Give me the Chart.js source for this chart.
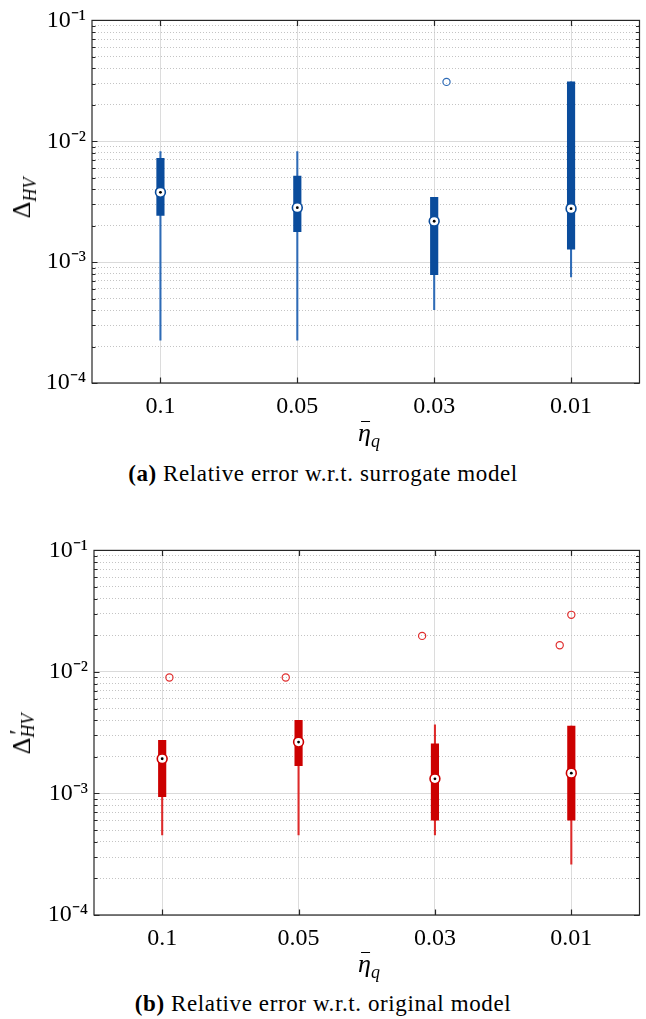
<!DOCTYPE html>
<html>
<head>
<meta charset="utf-8">
<script src="https://cdn.jsdelivr.net/npm/chart.js@4"></script>
<style>
  html, body { margin:0; padding:0; background:#fff; }
  body { width:646px; height:1019px; position:relative; overflow:hidden; font-family:'Liberation Serif', serif; color:#000; }
  .cv { position:absolute; left:0; width:646px; height:420px; }
  .ytitle { position:absolute; font-size:26px; white-space:nowrap; transform:translate(-50%,-50%) rotate(-90deg); }
  .xtitle { position:absolute; font-size:26px; white-space:nowrap; transform:translate(-50%,-50%); }
  .cap { position:absolute; left:0; width:646px; text-align:center; font-size:23px; letter-spacing:0.6px; white-space:nowrap; transform:translateY(-50%); }
  .sub { font-size:18px; font-style:italic; position:relative; top:6px; }
  .bar { display:inline-block; position:relative; font-style:italic; }
  .bar::before { content:''; position:absolute; left:3px; right:1px; top:3px; border-top:1.3px solid #000; }
  .stack { display:inline-block; position:relative; width:30px; height:22px; vertical-align:baseline; }
</style>
</head>
<body>
<div id="wrap1" class="cv" style="top:0"><canvas id="c1"></canvas></div>
<div id="wrap2" class="cv" style="top:530px"><canvas id="c2"></canvas></div>

<div class="ytitle" style="left:22px; top:198px;">Δ<span class="sub">HV</span></div>
<div class="ytitle" style="left:22px; top:731px;">Δ<span class="stack"><span style="position:absolute;left:3px;top:-3px;font-size:24px;line-height:1;">′</span><span style="position:absolute;left:0;top:11px;font-size:18px;line-height:1;font-style:italic;">HV</span></span></div>

<div class="xtitle" style="left:369px; top:433px;"><span class="bar">η</span><span class="sub">q</span></div>
<div class="xtitle" style="left:369px; top:964px;"><span class="bar">η</span><span class="sub">q</span></div>

<div class="cap" style="top:474px;"><b>(a)</b> Relative error w.r.t. surrogate model</div>
<div class="cap" style="top:1004px;"><b>(b)</b> Relative error w.r.t. original model</div>

<script>
// ---------------- DATA ----------------
const categories = ['0.1', '0.05', '0.03', '0.01'];

// (a) surrogate model (blue)
const surWhiskerLow  = [0.000226, 0.000226, 0.000405, 0.000755];
const surQ1          = [0.00243, 0.00179, 0.000789, 0.00128];
const surMedian      = [0.00378, 0.00282, 0.00218, 0.00277];
const surQ3          = [0.00723, 0.00516, 0.00344, 0.031];
const surWhiskerHigh = [0.0082, 0.0082, 0.00344, 0.031];
const surOutlierCat   = [2];
const surOutlierShift = [0.09];
const surOutlierValue = [0.031];

// (b) original model (red)
const oriWhiskerLow  = [0.000457, 0.000457, 0.000457, 0.000262];
const oriQ1          = [0.00094, 0.00169, 0.000603, 0.000603];
const oriMedian      = [0.00193, 0.00265, 0.00132, 0.00147];
const oriQ3          = [0.00274, 0.0040, 0.00256, 0.00358];
const oriWhiskerHigh = [0.00274, 0.0040, 0.00367, 0.00358];
const oriOutlierCat   = [0, 1, 2, 3, 3];
const oriOutlierShift = [0.053, -0.094, -0.094, 0.0, -0.085];
const oriOutlierValue = [0.0090, 0.0090, 0.0198, 0.0295, 0.0166];

const yMin = 1e-4, yMax = 1e-1;
const supMap = {'-':'⁻','0':'⁰','1':'¹','2':'²','3':'³','4':'⁴','5':'⁵','6':'⁶','7':'⁷','8':'⁸','9':'⁹'};

// ---------------- HELPERS ----------------
function isDecade(v) {
  const l = Math.log10(v);
  return Math.abs(l - Math.round(l)) < 1e-9;
}

const framePlugin = {
  id: 'frame',
  afterDatasetsDraw(chart) {
    const {ctx, chartArea: a, scales} = chart;
    ctx.save();
    ctx.strokeStyle = '#262626';
    ctx.lineWidth = 1.2;
    ctx.beginPath();
    scales.y.ticks.forEach(t => {
      const y = Math.round(scales.y.getPixelForValue(t.value)) + 0.5;
      const len = t.major ? 5.5 : 3.5;
      ctx.moveTo(a.left, y); ctx.lineTo(a.left + len, y);
      ctx.moveTo(a.right, y); ctx.lineTo(a.right - len, y);
    });
    scales.x.ticks.forEach(t => {
      const x = Math.round(scales.x.getPixelForValue(t.value)) + 0.5;
      ctx.moveTo(x, a.top); ctx.lineTo(x, a.top + 5.5);
      ctx.moveTo(x, a.bottom); ctx.lineTo(x, a.bottom - 5.5);
    });
    ctx.stroke();
    ctx.strokeRect(a.left, a.top, a.right - a.left, a.bottom - a.top);
    ctx.restore();
  }
};

function makeChart(canvasId, padTop, plotBottom, yWidth, d, col) {
  const boxes = [], whiskers = [], meds = [], outs = [];
  categories.forEach((c, i) => {
    whiskers.push({x: i, y: [d.wl[i], d.wh[i]]});
    boxes.push({x: i, y: [d.q1[i], d.q3[i]]});
    meds.push({x: i, y: d.med[i]});
  });
  d.oc.forEach((c, k) => outs.push({x: c + d.os[k], y: d.ov[k]}));

  return new Chart(document.getElementById(canvasId), {
    type: 'bar',
    data: {
      datasets: [
        {type: 'bar', data: whiskers, backgroundColor: col.whisker, barThickness: 1.4, grouped: false, order: 4},
        {type: 'bar', data: boxes, backgroundColor: col.box, barThickness: 7.5, grouped: false, order: 3},
        {type: 'scatter', data: outs, pointRadius: 3.6, pointBorderWidth: 1.2, pointBackgroundColor: 'rgba(0,0,0,0)', pointBorderColor: col.outlier, order: 2},
        {type: 'scatter', data: meds, pointRadius: 4.9, pointBorderWidth: 1.6, pointBackgroundColor: '#ffffff', pointBorderColor: col.box, order: 1},
        {type: 'scatter', data: meds, pointRadius: 1.4, pointBorderWidth: 0, pointBackgroundColor: '#000000', order: 0}
      ]
    },
    options: {
      responsive: true,
      maintainAspectRatio: false,
      animation: false,
      events: [],
      layout: {padding: {top: padTop, right: 1, left: 0, bottom: 0}},
      plugins: {legend: {display: false}, tooltip: {enabled: false}},
      scales: {
        x: {
          type: 'linear', min: -0.5, max: 3.5, offset: false,
          afterBuildTicks: s => { s.ticks = categories.map((c, i) => ({value: i})); },
          afterFit: s => { s.height = 420 - plotBottom; },
          ticks: {
            autoSkip: false, maxRotation: 0, padding: 9, color: '#000',
            font: {family: 'Liberation Serif', size: 24},
            callback: v => categories[Math.round(v)]
          },
          grid: {color: '#dcdcdc', lineWidth: 1, drawTicks: false, offset: false},
          border: {display: false}
        },
        y: {
          type: 'logarithmic', min: yMin, max: yMax,
          afterBuildTicks: s => {
            const t = [];
            for (let e = Math.log10(yMin); e < Math.log10(yMax); e++) {
              for (let m = 1; m <= 9; m++) t.push({value: +(m * Math.pow(10, e)).toPrecision(3), major: m === 1});
            }
            t.push({value: yMax, major: true});
            s.ticks = t;
          },
          afterFit: s => { s.width = yWidth; },
          ticks: {
            autoSkip: false, padding: 6, color: '#000',
            font: {family: 'Liberation Serif', size: 24},
            callback: v => isDecade(v) ? '10' + String(Math.round(Math.log10(v))).split('').map(ch => supMap[ch]).join('') : ''
          },
          grid: {
            drawTicks: false,
            lineWidth: 1,
            color: c => (c.tick && c.tick.major) ? '#dadada' : '#c4c4c4'
          },
          border: {display: false, dash: c => (c.tick && !c.tick.major) ? [1, 2] : []}
        }
      }
    },
    plugins: [framePlugin]
  });
}

makeChart('c1', 14, 383, 92,
  {wl: surWhiskerLow, q1: surQ1, med: surMedian, q3: surQ3, wh: surWhiskerHigh, oc: surOutlierCat, os: surOutlierShift, ov: surOutlierValue},
  {box: '#0a4c9c', whisker: '#2e6bb6', outlier: '#2e6bb6'});

makeChart('c2', 17, 385, 94,
  {wl: oriWhiskerLow, q1: oriQ1, med: oriMedian, q3: oriQ3, wh: oriWhiskerHigh, oc: oriOutlierCat, os: oriOutlierShift, ov: oriOutlierValue},
  {box: '#cc0000', whisker: '#dd2a2a', outlier: '#e02f2f'});
</script>
</body>
</html>
